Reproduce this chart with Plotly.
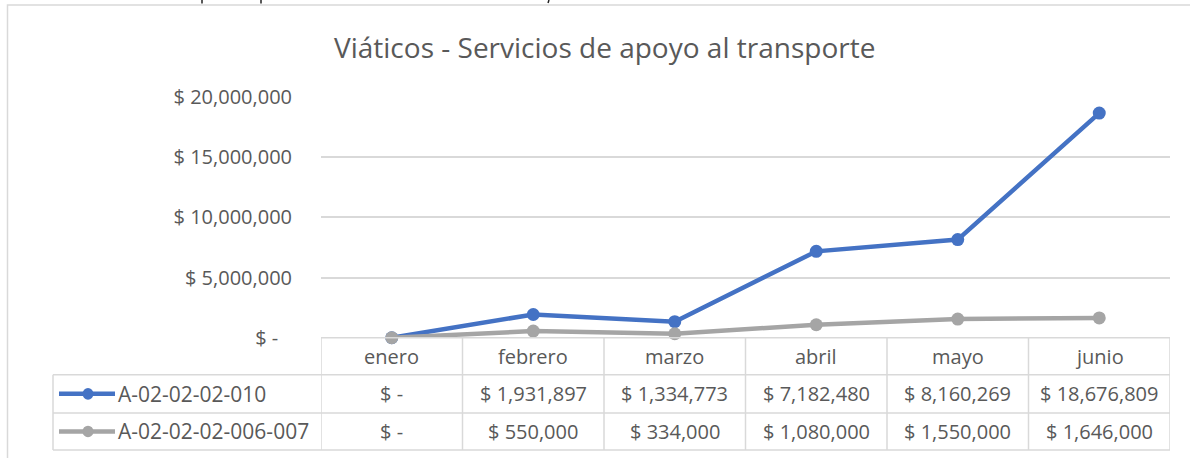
import plotly.graph_objects as go

W, H = 1190, 458          # target picture size
H_LAYOUT = 486            # layout height that the photograph maps onto H rows

categories = ["enero", "febrero", "marzo", "abril", "mayo", "junio"]
series_names = ["A-02-02-02-010", "A-02-02-02-006-007"]
values_010 = [0, 1931897, 1334773, 7182480, 8160269, 18676809]
values_006 = [0, 550000, 334000, 1080000, 1550000, 1646000]
series_values = [values_010, values_006]
series_colors = ["#4472C4", "#A5A5A5"]
y_ticks = [0, 5000000, 10000000, 15000000, 20000000]
title_text = "Viáticos - Servicios de apoyo al transporte"

TXT = "#595959"
GRID = "#D9D9D9"
FONT = "Open Sans"
FS = 20


def px(x):
    return x / W


def py(y):
    return 1 - y / H


def money(v):
    if v == 0:
        return "$ -"
    return "$ {:,}".format(v)


def tick_money(v):
    if v == 0:
        return "$ -" + "\u00a0\u00a0\u2009"
    return "$ {:,}".format(v)


PL, PR = 321, 1170
PT, PB = 97, 337
ROW_Y = [337, 374, 412, 449]
LEG_L = 53

fig = go.Figure()
for name, vals, col in zip(series_names, series_values, series_colors):
    fig.add_trace(go.Scatter(
        x=categories, y=vals, name=name, mode="lines+markers",
        line=dict(color=col, width=4.5),
        marker=dict(color=col, size=13),
        cliponaxis=False,
    ))

shapes = []
annotations = []

# outer chart frame
shapes.append(dict(type="rect", xref="paper", yref="paper",
                   x0=px(7.5), x1=px(1300), y0=py(5), y1=py(600),
                   line=dict(color=GRID, width=1.5), fillcolor="rgba(0,0,0,0)",
                   layer="below"))

# tiny clipped text fragments at very top
for xx in [202, 261]:
    shapes.append(dict(type="line", xref="paper", yref="paper",
                       x0=px(xx), x1=px(xx), y0=py(0), y1=py(3.5),
                       line=dict(color="#222", width=1.5)))
shapes.append(dict(type="line", xref="paper", yref="paper",
                   x0=px(549), x1=px(548), y0=py(0), y1=py(3),
                   line=dict(color="#222", width=1.5)))

for i, yy in enumerate(ROW_Y):
    if i == 0:
        shapes.append(dict(type="line", xref="x", yref="paper",
                           x0=-0.5, x1=len(categories) - 0.5, y0=py(yy), y1=py(yy),
                           line=dict(color=GRID, width=1.5)))
    else:
        shapes.append(dict(type="line", xref="paper", yref="paper",
                           x0=px(LEG_L), x1=px(PR), y0=py(yy), y1=py(yy),
                           line=dict(color=GRID, width=1.5)))
for k in range(len(categories) + 1):
    shapes.append(dict(type="line", xref="x", yref="paper",
                       x0=k - 0.5, x1=k - 0.5, y0=py(ROW_Y[0]), y1=py(ROW_Y[-1]),
                       line=dict(color=GRID, width=1.5)))
shapes.append(dict(type="line", xref="paper", yref="paper",
                   x0=px(LEG_L), x1=px(LEG_L), y0=py(ROW_Y[1]), y1=py(ROW_Y[-1]),
                   line=dict(color=GRID, width=1.5)))

for c in categories:
    annotations.append(dict(x=c, y=py((ROW_Y[0] + ROW_Y[1]) / 2), xref="x", yref="paper",
                            text=c, showarrow=False, xanchor="center", yanchor="middle",
                            font=dict(family=FONT, size=FS, color=TXT)))

for r, (name, vals, col) in enumerate(zip(series_names, series_values, series_colors)):
    yc = (ROW_Y[r + 1] + ROW_Y[r + 2]) / 2
    for c, v in zip(categories, vals):
        annotations.append(dict(x=c, y=py(yc), xref="x", yref="paper",
                                text=money(v), showarrow=False, xanchor="center",
                                yanchor="middle",
                                font=dict(family=FONT, size=FS, color=TXT)))
    # legend key inside the data table
    shapes.append(dict(type="line", xref="paper", yref="paper",
                       x0=px(59), x1=px(115), y0=py(yc), y1=py(yc),
                       line=dict(color=col, width=4.5)))
    shapes.append(dict(type="circle", xref="paper", yref="paper",
                       x0=px(88 - 5.5), x1=px(88 + 5.5), y0=py(yc - 5.8), y1=py(yc + 5.8),
                       line=dict(color=col, width=0), fillcolor=col))
    annotations.append(dict(x=px(116), y=py(yc), xref="paper", yref="paper",
                            text=name, showarrow=False, xanchor="left", yanchor="middle",
                            font=dict(family=FONT, size=21, color=TXT)))

annotations.append(dict(x=px(604), y=py(47), xref="paper", yref="paper",
                        text=title_text, showarrow=False, xanchor="center",
                        yanchor="middle",
                        font=dict(family=FONT, size=28, color=TXT)))

fig.update_layout(
    width=W, height=H_LAYOUT, autosize=False,
    margin=dict(l=0, r=0, t=0, b=0),
    paper_bgcolor="white", plot_bgcolor="white",
    showlegend=False,
    shapes=shapes, annotations=annotations,
    xaxis=dict(domain=[px(PL), px(PR)], range=[-0.5, len(categories) - 0.5],
               showticklabels=False, showgrid=False, zeroline=False,
               showline=False, ticks="", fixedrange=True),
    yaxis=dict(domain=[py(PB), py(PT)], range=[0, y_ticks[-1]],
               tickvals=y_ticks, ticktext=[tick_money(v) for v in y_ticks],
               showgrid=True, gridcolor=GRID, gridwidth=1.5,
               zeroline=False, showline=False, ticks="",
               ticklabelstandoff=28,
               tickfont=dict(family=FONT, size=FS, color=TXT), fixedrange=True),
)

fig.write_html(
    "out.html",
    config={"displayModeBar": False},
    post_script=("document.body.style.margin='0';"
                 "document.body.style.marginTop='-14px';"
                 "document.body.style.overflow='hidden';"),
)
